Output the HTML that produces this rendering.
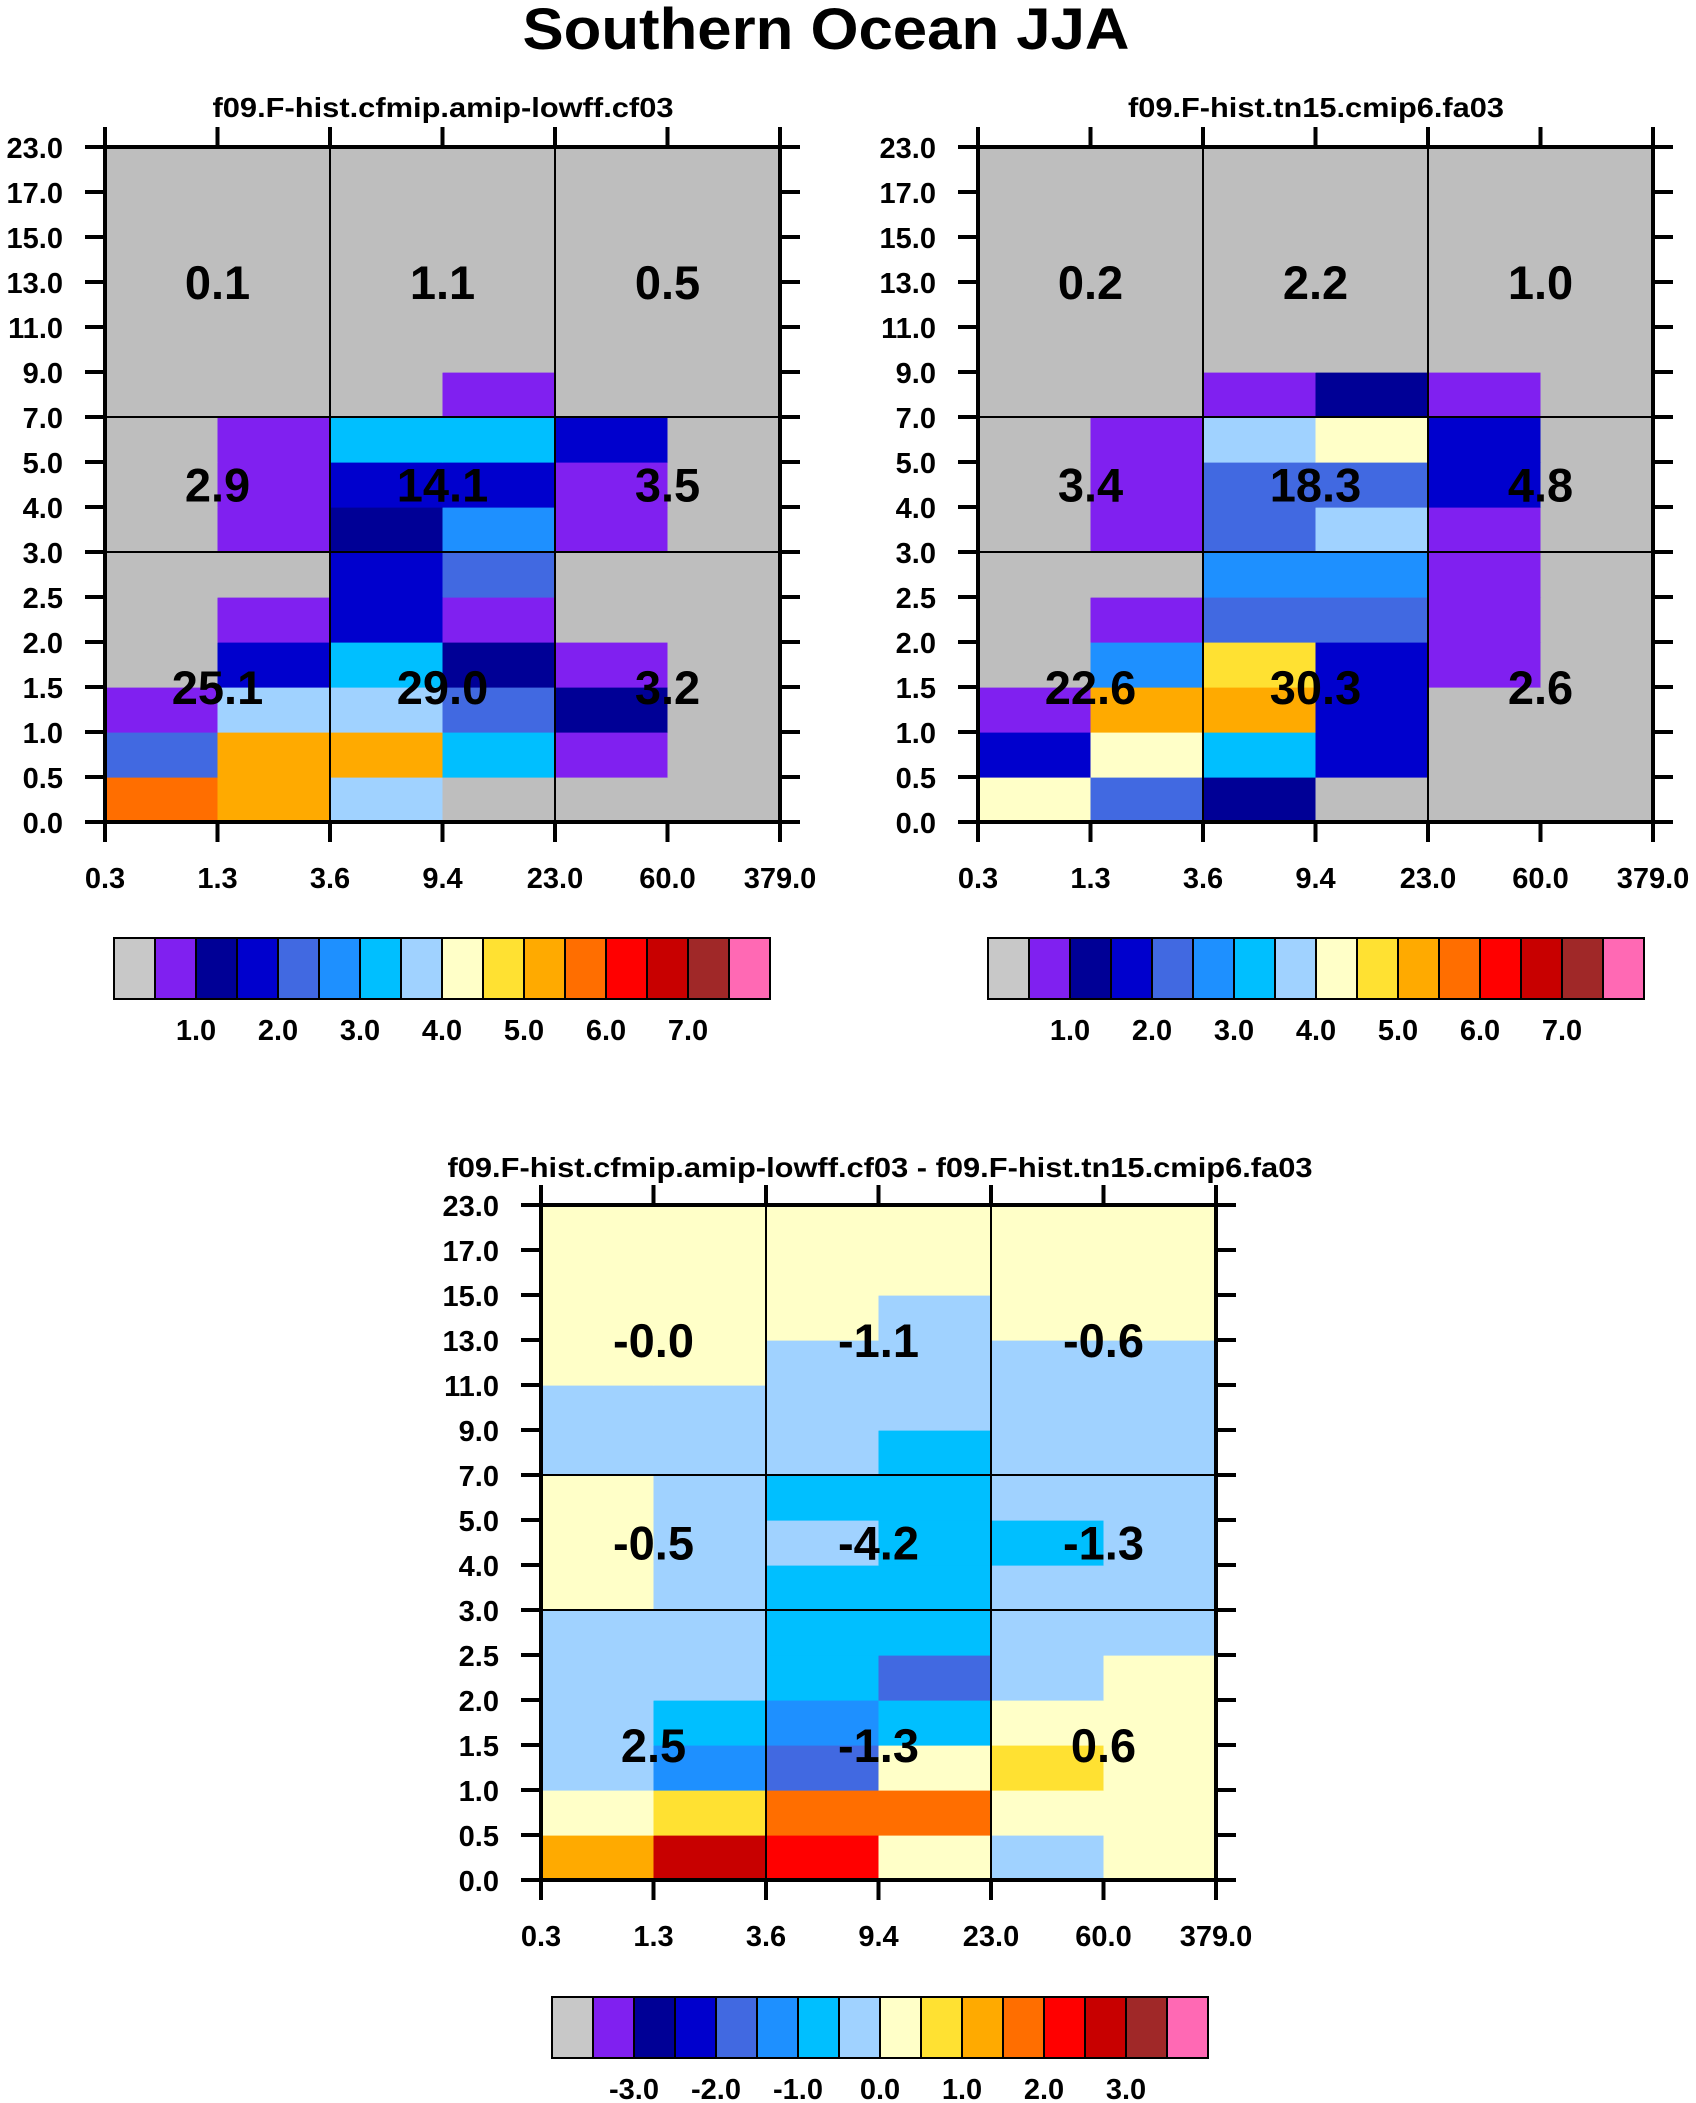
<!DOCTYPE html>
<html><head><meta charset="utf-8"><style>
html,body{margin:0;padding:0;background:#fff;}
svg{display:block;font-family:"Liberation Sans",Arial,sans-serif;font-weight:bold;}
</style></head><body>
<svg id="fig" width="1696" height="2103" viewBox="0 0 1696 2103" xmlns="http://www.w3.org/2000/svg">
<text x="826" y="49" text-anchor="middle" font-size="58" textLength="607" lengthAdjust="spacingAndGlyphs">Southern Ocean JJA</text>
</svg>
<script>
// ---- shared axes data ----
const xTickLabels = ["0.3","1.3","3.6","9.4","23.0","60.0","379.0"];
const yTickLabels = ["0.0","0.5","1.0","1.5","2.0","2.5","3.0","4.0","5.0","7.0","9.0","11.0","13.0","15.0","17.0","23.0"];
const palette = ["#bebebe","#8020f0","#000096","#0000cd","#4169e1","#1e90ff","#00bfff","#a0d2ff","#ffffc8","#ffe132","#ffaa00","#ff6e00","#ff0000","#c80000","#a02828","#ff69b4"];
const barLabelsAbs = ["1.0","2.0","3.0","4.0","5.0","6.0","7.0"];
const barLabelsDiff = ["-3.0","-2.0","-1.0","0.0","1.0","2.0","3.0"];
// ---- panel 1 values (rows bottom->top, cols left->right) ----
const valuesP1 = [
 [5.75,5.25,3.75,0.2,0.2,0.2],
 [2.25,5.25,5.25,3.25,0.75,0.2],
 [0.75,3.75,3.75,2.25,1.25,0.2],
 [0.2,1.75,3.25,1.25,0.75,0.2],
 [0.2,0.75,1.75,0.75,0.2,0.2],
 [0.2,0.2,1.75,2.25,0.2,0.2],
 [0.2,0.75,1.25,2.75,0.75,0.2],
 [0.2,0.75,1.75,1.75,0.75,0.2],
 [0.2,0.75,3.25,3.25,1.75,0.2],
 [0.2,0.2,0.2,0.75,0.2,0.2],
 [0.2,0.2,0.2,0.2,0.2,0.2],
 [0.2,0.2,0.2,0.2,0.2,0.2],
 [0.2,0.2,0.2,0.2,0.2,0.2],
 [0.2,0.2,0.2,0.2,0.2,0.2],
 [0.2,0.2,0.2,0.2,0.2,0.2]
];
const sumsP1 = ["25.1","29.0","3.2","2.9","14.1","3.5","0.1","1.1","0.5"];
// ---- panel 2 values ----
const valuesP2 = [
 [4.25,2.25,1.25,0.2,0.2,0.2],
 [1.75,4.25,3.25,1.75,0.2,0.2],
 [0.75,5.25,5.25,1.75,0.2,0.2],
 [0.2,2.75,4.75,1.75,0.75,0.2],
 [0.2,0.75,2.25,2.25,0.75,0.2],
 [0.2,0.2,2.75,2.75,0.75,0.2],
 [0.2,0.75,2.25,3.75,0.75,0.2],
 [0.2,0.75,2.25,2.25,1.75,0.2],
 [0.2,0.75,3.75,4.25,1.75,0.2],
 [0.2,0.2,0.75,1.25,0.75,0.2],
 [0.2,0.2,0.2,0.2,0.2,0.2],
 [0.2,0.2,0.2,0.2,0.2,0.2],
 [0.2,0.2,0.2,0.2,0.2,0.2],
 [0.2,0.2,0.2,0.2,0.2,0.2],
 [0.2,0.2,0.2,0.2,0.2,0.2]
];
const sumsP2 = ["22.6","30.3","2.6","3.4","18.3","4.8","0.2","2.2","1.0"];
// ---- panel 3 (difference) values ----
const valuesP3 = [
 [1.25,2.75,2.25,0.25,-0.25,0.25],
 [0.25,0.75,1.75,1.75,0.25,0.25],
 [-0.25,-1.25,-1.75,0.25,0.75,0.25],
 [-0.25,-0.75,-1.25,-0.75,0.25,0.25],
 [-0.25,-0.25,-0.75,-1.75,-0.25,0.25],
 [-0.25,-0.25,-0.75,-0.75,-0.25,-0.25],
 [0.25,-0.25,-0.75,-0.75,-0.25,-0.25],
 [0.25,-0.25,-0.25,-0.75,-0.75,-0.25],
 [0.25,-0.25,-0.75,-0.75,-0.25,-0.25],
 [-0.25,-0.25,-0.25,-0.75,-0.25,-0.25],
 [-0.25,-0.25,-0.25,-0.25,-0.25,-0.25],
 [0.25,0.25,-0.25,-0.25,-0.25,-0.25],
 [0.25,0.25,0.25,-0.25,0.25,0.25],
 [0.25,0.25,0.25,0.25,0.25,0.25],
 [0.25,0.25,0.25,0.25,0.25,0.25]
];
const sumsP3 = ["2.5","-1.3","0.6","-0.5","-4.2","-1.3","-0.0","-1.1","-0.6"];

const NS = "http://www.w3.org/2000/svg";
const svg = document.getElementById("fig");
function mk(tag, attrs, parent){
  const e = document.createElementNS(NS, tag);
  for (const k in attrs) e.setAttribute(k, attrs[k]);
  (parent||svg).appendChild(e);
  return e;
}
function colorIndex(v, base){
  let k = Math.floor((v - base) / 0.5);
  if (k < 0) k = 0; if (k > 15) k = 15;
  return k;
}

function panel(cfg){
  const g = mk("g", {});
  
  
  const L = cfg.x, T = cfg.y, W = 675, H = 675;
  const nc = xTickLabels.length - 1, nr = yTickLabels.length - 1;
  const xs = i => L + W * i / nc;
  const ys = j => T + H - H * j / nr;
  const st = mk("text", {x: cfg.tx, y: cfg.ty, "text-anchor": "middle", "font-size": 28, textLength: cfg.tw, lengthAdjust: "spacingAndGlyphs"}, g);
  st.textContent = cfg.title;
  
  
  for (let r = 0; r < nr; r++) for (let c = 0; c < nc; c++){
    const v = cfg.values[r][c];
    const rc = mk("rect", {x: xs(c), y: ys(r+1), width: xs(c+1)-xs(c)+0.6, height: ys(r)-ys(r+1)+0.6, fill: palette[colorIndex(v, cfg.base)]}, g);
    
    
  }
  [2,4].forEach(i => {
    const ln = mk("line", {x1: xs(i), x2: xs(i), y1: T, y2: T+H, stroke: "#000", "stroke-width": 2}, g);
    
    
  });
  [6,9].forEach(j => {
    const ln = mk("line", {x1: L, x2: L+W, y1: ys(j), y2: ys(j), stroke: "#000", "stroke-width": 2}, g);
    
    
  });
  const bx = [1,3,5], by = [3,7.5,12];
  let k = 0;
  for (let r = 0; r < 3; r++) for (let c = 0; c < 3; c++){
    const t = mk("text", {x: xs(bx[c]), y: ys(by[r]) + 17, "text-anchor": "middle", "font-size": 47}, g);
    t.textContent = cfg.sums[k++];
    
    
  }
  const fr = mk("rect", {x: L, y: T, width: W, height: H, fill: "none", stroke: "#000", "stroke-width": 4}, g);
  
  
  for (let i = 0; i <= nc; i++){
    mk("line", {x1: xs(i), x2: xs(i), y1: T-20, y2: T, stroke: "#000", "stroke-width": 4}, g);
    mk("line", {x1: xs(i), x2: xs(i), y1: T+H, y2: T+H+20, stroke: "#000", "stroke-width": 4}, g);
    const t = mk("text", {x: xs(i), y: T+H+66, "text-anchor": "middle", "font-size": 29}, g);
    t.textContent = xTickLabels[i];
    
    
  }
  for (let j = 0; j <= nr; j++){
    mk("line", {x1: L-20, x2: L, y1: ys(j), y2: ys(j), stroke: "#000", "stroke-width": 4}, g);
    mk("line", {x1: L+W, x2: L+W+20, y1: ys(j), y2: ys(j), stroke: "#000", "stroke-width": 4}, g);
    const t = mk("text", {x: L-42, y: ys(j)+11, "text-anchor": "end", "font-size": 29}, g);
    t.textContent = yTickLabels[j];
    
    
  }
  const cb = mk("g", {}, g);
  
  
  const bw = 41, cbx = cfg.cbx, cby = cfg.cby, cbh = 61;
  for (let i = 0; i < palette.length; i++){
    const r = mk("rect", {x: cbx + i*bw, y: cby, width: bw, height: cbh, fill: i===0 ? "#c8c8c8" : palette[i], stroke: "#000", "stroke-width": 2}, cb);
    
    
  }
  cfg.barLabels.forEach((lab, i) => {
    const t = mk("text", {x: cbx + (2 + 2*i)*bw, y: cby + cbh + 41, "text-anchor": "middle", "font-size": 29}, cb);
    t.textContent = lab;
    
    
  });
}

panel({name:"panel-cf03", x:105, y:147, values:valuesP1, sums:sumsP1, base:0, title:"f09.F-hist.cfmip.amip-lowff.cf03", tx:443, ty:117, tw:461, cbx:114, cby:938, barLabels:barLabelsAbs});
panel({name:"panel-fa03", x:978, y:147, values:valuesP2, sums:sumsP2, base:0, title:"f09.F-hist.tn15.cmip6.fa03", tx:1316, ty:117, tw:376, cbx:988, cby:938, barLabels:barLabelsAbs});
panel({name:"panel-difference", x:541, y:1205, values:valuesP3, sums:sumsP3, base:-4, title:"f09.F-hist.cfmip.amip-lowff.cf03 - f09.F-hist.tn15.cmip6.fa03", tx:880, ty:1177, tw:865, cbx:552, cby:1997, barLabels:barLabelsDiff});
</script>
</body></html>
